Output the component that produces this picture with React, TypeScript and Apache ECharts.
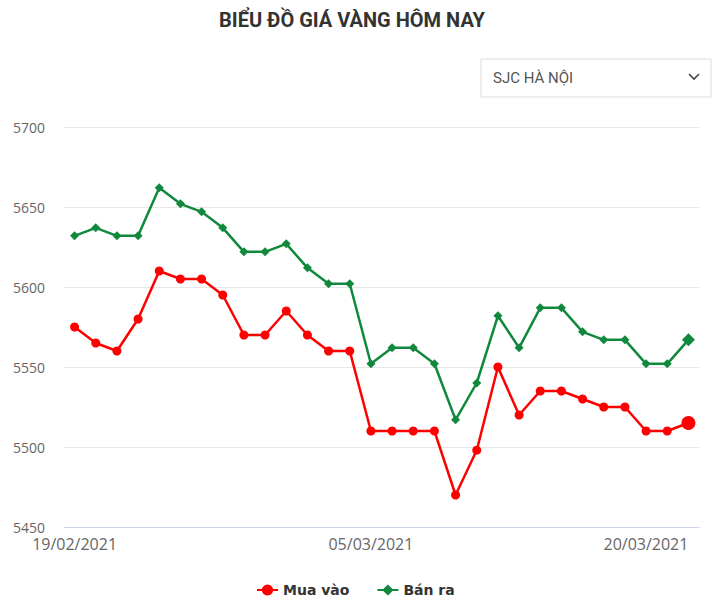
import React, { useEffect, useRef } from "react";
import * as echarts from "echarts";

const categories = [
  "19/02/2021", "20/02/2021", "21/02/2021", "22/02/2021", "23/02/2021",
  "24/02/2021", "25/02/2021", "26/02/2021", "27/02/2021", "28/02/2021",
  "01/03/2021", "02/03/2021", "03/03/2021", "04/03/2021", "05/03/2021",
  "06/03/2021", "07/03/2021", "08/03/2021", "09/03/2021", "10/03/2021",
  "11/03/2021", "12/03/2021", "13/03/2021", "14/03/2021", "15/03/2021",
  "16/03/2021", "17/03/2021", "18/03/2021", "19/03/2021", "20/03/2021",
];

const muaVao = [
  5575, 5565, 5560, 5580, 5610, 5605, 5605, 5595, 5570, 5570,
  5585, 5570, 5560, 5560, 5510, 5510, 5510, 5510, 5470, 5498,
  5550, 5520, 5535, 5535, 5530, 5525, 5525, 5510, 5510, 5515,
];

const banRa = [
  5632, 5637, 5632, 5632, 5662, 5652, 5647, 5637, 5622, 5622,
  5627, 5612, 5602, 5602, 5552, 5562, 5562, 5552, 5517, 5540,
  5582, 5562, 5587, 5587, 5572, 5567, 5567, 5552, 5552, 5567,
];

const shownLabels = [0, 14, 29];

const yMin = 5450;
const yMax = 5700;
const yStep = 50;

const RED = "#ff0000";
const GREEN = "#11893d";

export default function App() {
  const ref = useRef<HTMLDivElement>(null);

  useEffect(() => {
    document.body.style.margin = "0";
    if (!ref.current) return;
    const chart = echarts.init(ref.current, null, { renderer: "svg" });
    const last = categories.length - 1;

    const mk = (arr: number[], bigSize: number) =>
      arr.map((v, i) => (i === last ? { value: v, symbolSize: bigSize } : v));

    chart.setOption({
      animation: false,
      backgroundColor: "#ffffff",
      grid: { left: 64, right: 21, top: 127, bottom: 87, containLabel: false },
      graphic: [
        {
          type: "text",
          x: 352,
          y: 20,
          style: {
            text: "BIỂU ĐỒ GIÁ VÀNG HÔM NAY",
            fill: "#333333",
            font: "bold 20px Roboto",
            textAlign: "center",
            textVerticalAlign: "middle",
          },
        },
        {
          type: "rect",
          shape: { x: 481, y: 59, width: 230, height: 38 },
          style: { fill: "#ffffff", stroke: "#dddddd", lineWidth: 1 },
        },
        {
          type: "text",
          x: 493,
          y: 78,
          style: {
            text: "SJC HÀ NỘI",
            fill: "#555555",
            font: "15px Roboto",
            textAlign: "left",
            textVerticalAlign: "middle",
          },
        },
        {
          type: "polyline",
          shape: { points: [[689, 74], [694, 79], [699, 74]] },
          style: { stroke: "#444444", lineWidth: 1.6, fill: "none" },
        },
      ],
      legend: {
        left: 256,
        top: 583,
        padding: 0,
        itemWidth: 21,
        itemHeight: 14,
        itemGap: 27,
        textStyle: {
          fontFamily: "DejaVu Sans",
          fontWeight: "bold",
          fontSize: 14,
          color: "#333333",
        },
        data: ["Mua vào", "Bán ra"],
      },
      xAxis: {
        type: "category",
        data: categories,
        boundaryGap: true,
        axisLine: { show: true, lineStyle: { color: "#ccd6eb", width: 1 } },
        axisTick: { show: false },
        splitLine: { show: false },
        axisLabel: {
          interval: (i: number) => shownLabels.includes(i),
          color: "#666666",
          fontFamily: "Open Sans",
          fontSize: 16,
          margin: 9,
          alignMinLabel: "center",
          alignMaxLabel: "right",
        },
      },
      yAxis: {
        type: "value",
        min: yMin,
        max: yMax,
        interval: yStep,
        axisLine: { show: false },
        axisTick: { show: false },
        splitLine: { lineStyle: { color: "#e6e6e6", width: 1 } },
        axisLabel: {
          color: "#666666",
          fontFamily: "Open Sans",
          fontSize: 14,
          margin: 19,
          formatter: (v: number) => String(v),
        },
      },
      series: [
        {
          name: "Mua vào",
          type: "line",
          data: mk(muaVao, 14),
          symbol: "circle",
          symbolSize: 9,
          showAllSymbol: true,
          lineStyle: { color: RED, width: 2.5 },
          itemStyle: { color: RED },
          z: 2,
        },
        {
          name: "Bán ra",
          type: "line",
          data: mk(banRa, 13),
          symbol: "diamond",
          symbolSize: 9,
          showAllSymbol: true,
          lineStyle: { color: GREEN, width: 2.5 },
          itemStyle: { color: GREEN },
          z: 3,
        },
      ],
    });

    return () => chart.dispose();
  }, []);

  return <div ref={ref} style={{ width: 720, height: 614 }} />;
}
